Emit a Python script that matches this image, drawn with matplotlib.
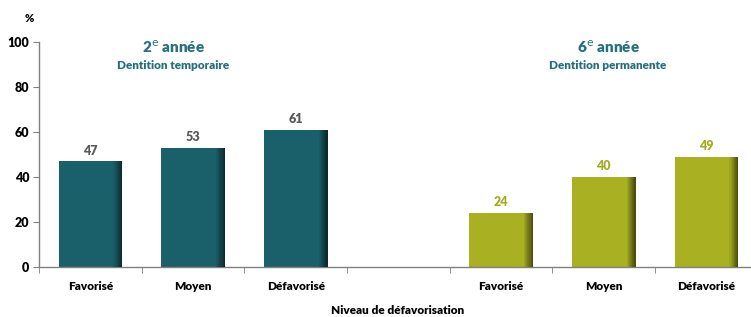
import matplotlib
matplotlib.use("Agg")
import matplotlib.pyplot as plt
import numpy as np
from matplotlib.colors import to_rgb

categories = ["Favorisé", "Moyen", "Défavorisé", "", "Favorisé", "Moyen", "Défavorisé"]
values_2e = [47, 53, 61]
values_6e = [24, 40, 49]
yticks = [0, 20, 40, 60, 80, 100]

teal = "#1a606b"
olive = "#a9b021"
title_col = "#25707b"
grey_lbl = "#595959"
lbl_olive = "#a3ad1f"

plt.rcParams['font.family'] = ['Lato', 'DejaVu Sans']
WT = 'heavy'

fig = plt.figure(figsize=(7.51, 3.17), dpi=100)
ax = fig.add_axes([39/751, 50/317, 718.7/751, 225/317])

x_all = np.arange(len(categories))
pos_2e = x_all[:3]
pos_6e = x_all[4:]
w = 0.62

def draw_bars(pos, vals, color):
    ax.bar(pos, vals, width=w, color=color, zorder=2)
    base = np.array(to_rgb(color))
    n = 8
    sw = 0.085
    for i in range(n):
        f = 1 - 0.55 * (i + 1) / n
        c = base * f
        left = pos + w/2 - sw + sw * i / n
        ax.bar(left, vals, width=sw / n * 1.05, align='edge', color=c, zorder=3, linewidth=0)

draw_bars(pos_2e, values_2e, teal)
draw_bars(pos_6e, values_6e, olive)

for p, v in zip(pos_2e, values_2e):
    ax.text(p, v + 2.0, str(v), ha='center', va='bottom', fontsize=9, fontweight=WT, color=grey_lbl)
for p, v in zip(pos_6e, values_6e):
    ax.text(p, v + 2.0, str(v), ha='center', va='bottom', fontsize=9, fontweight=WT, color=lbl_olive)

ax.set_xlim(-0.5, len(categories) - 0.5)
ax.set_ylim(0, 100)
ax.set_yticks(yticks)
ax.set_yticklabels([str(t) for t in yticks], fontsize=9, fontweight=WT)
ax.set_xticks(x_all)
ax.set_xticklabels(categories, fontsize=8.5, fontweight=WT)
ax.tick_params(axis='x', length=0, pad=10)
ax.set_xticks(np.arange(len(categories)) - 0.5, minor=True)
ax.tick_params(axis='x', which='minor', length=4, color='#808080', direction='out')
ax.tick_params(axis='y', length=4, color='#808080', direction='out', pad=3)

for s in ['top', 'right']:
    ax.spines[s].set_visible(False)
for s in ['left', 'bottom']:
    ax.spines[s].set_color('#808080')
    ax.spines[s].set_linewidth(1.0)

fig.text(173/751, 1 - 47/317, r"2$^{\rm e}$ année", ha='center', va='center', fontsize=11, fontweight=WT, color=title_col)
fig.text(173/751, 1 - 65/317, "Dentition temporaire", ha='center', va='center', fontsize=8.5, fontweight=WT, color=title_col)
fig.text(608/751, 1 - 47/317, r"6$^{\rm e}$ année", ha='center', va='center', fontsize=11, fontweight=WT, color=title_col)
fig.text(608/751, 1 - 65/317, "Dentition permanente", ha='center', va='center', fontsize=8.5, fontweight=WT, color=title_col)

fig.text(29/751, 1 - 18/317, "%", ha='center', va='center', fontsize=8, fontweight=WT, color='black')
fig.text(398/751, 1 - 310/317, "Niveau de défavorisation", ha='center', va='center', fontsize=8.5, fontweight=WT, color='black')

fig.savefig("out.png", dpi=100)
